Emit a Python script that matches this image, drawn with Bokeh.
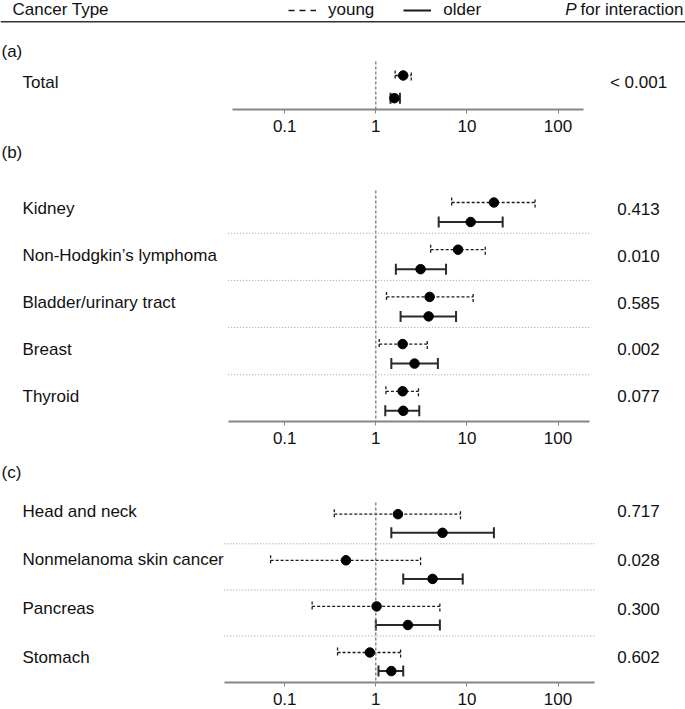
from bokeh.plotting import figure
from bokeh.models import (ColumnDataSource, Range1d, Label, Span, Whisker, TeeHead,
                          FixedTicker, CustomJSTickFormatter, Legend, LegendItem)
from bokeh.layouts import column
from bokeh.embed import file_html
from bokeh.resources import INLINE

FONT = "Liberation Sans"
FS = "17px"
NAN = float("nan")

# ---------------- data ----------------
tick_values = [0.1, 1, 10, 100]
ref_value = 1

panel_labels = ["(a)", "(b)", "(c)"]

cancers_a = ["Total"]
young_or_a = [2.0]
young_lo_a = [1.63]
young_hi_a = [2.45]
older_or_a = [1.60]
older_lo_a = [1.45]
older_hi_a = [1.84]
p_a = ["< 0.001"]

cancers_b = ["Kidney", "Non-Hodgkin\u2019s lymphoma", "Bladder/urinary tract", "Breast", "Thyroid"]
young_or_b = [19.8, 8.0, 3.9, 1.97, 1.97]
young_lo_b = [6.8, 4.0, 1.31, 1.09, 1.29]
young_hi_b = [56.0, 15.9, 11.7, 3.67, 2.94]
older_or_b = [11.0, 3.1, 3.8, 2.66, 2.0]
older_lo_b = [4.9, 1.66, 1.87, 1.48, 1.27]
older_hi_b = [24.7, 5.9, 7.6, 4.8, 3.0]
p_b = ["0.413", "0.010", "0.585", "0.002", "0.077"]

cancers_c = ["Head and neck", "Nonmelanoma skin cancer", "Pancreas", "Stomach"]
young_or_c = [1.75, 0.47, 1.02, 0.86]
young_lo_c = [0.35, 0.07, 0.20, 0.38]
young_hi_c = [8.5, 3.1, 5.05, 1.87]
older_or_c = [5.4, 4.2, 2.25, 1.48]
older_lo_c = [1.48, 2.0, 1.0, 1.07]
older_hi_c = [19.8, 9.0, 5.05, 2.0]
p_c = ["0.717", "0.028", "0.300", "0.602"]

# ---------------- layout ----------------
W = 685
X_RANGE = (10 ** (-4.120), 10 ** 3.3996)


def make_panel(label, names, yor, ylo, yhi, oor, olo, ohi, pvals, lay):
    fh = lay["frame_h"]
    p = figure(width=W, height=fh + lay["bottom"], x_axis_type="log",
               x_range=Range1d(*X_RANGE), y_range=Range1d(fh, 0),
               y_axis_location=None, toolbar_location=None, output_backend="svg",
               min_border_left=0, min_border_right=0, min_border_top=0,
               min_border_bottom=lay["bottom"])
    p.outline_line_color = None
    p.xgrid.visible = False
    p.ygrid.visible = False

    n = len(names)
    y_young = [lay["y0"] + i * lay["step"] for i in range(n)]
    y_older = [y + lay["off"] for y in y_young]
    y_lab = [lay["l0"] + i * lay["lstep"] for i in range(n)]

    # reference line at OR = 1
    p.segment(x0=[ref_value], x1=[ref_value], y0=[lay["ref_top"]], y1=[fh],
              line_color="#6e6e6e", line_width=1.2, line_dash="3 2")

    # separators
    lo_b, hi_b = lay["bounds"]
    sep_y = [y + lay["sep"] for y in y_older[:-1]]
    if sep_y:
        p.segment(x0=[lo_b] * len(sep_y), x1=[hi_b] * len(sep_y), y0=sep_y, y1=sep_y,
                  line_color="#9a9a9a", line_width=1, line_dash="1 2")

    src_y = ColumnDataSource(dict(y=y_young, est=yor, lo=ylo, hi=yhi))
    src_o = ColumnDataSource(dict(y=y_older, est=oor, lo=olo, hi=ohi))

    wy = Whisker(source=src_y, base="y", lower="lo", upper="hi", dimension="width",
                 line_color="#1a1a1a", line_width=1.3, line_dash="3 2",
                 upper_head=TeeHead(size=10, line_color="#1a1a1a", line_width=1.3, line_dash="3 2"),
                 lower_head=TeeHead(size=10, line_color="#1a1a1a", line_width=1.3, line_dash="3 2"))
    wo = Whisker(source=src_o, base="y", lower="lo", upper="hi", dimension="width",
                 line_color="#2a2a2a", line_width=2,
                 upper_head=TeeHead(size=11, line_color="#2a2a2a", line_width=2),
                 lower_head=TeeHead(size=11, line_color="#2a2a2a", line_width=2))
    p.add_layout(wy)
    p.add_layout(wo)
    p.scatter(x="est", y="y", source=src_y, size=9.5, color="black")
    p.scatter(x="est", y="y", source=src_o, size=9.5, color="black")

    # texts
    p.add_layout(Label(x=1, y=lay["group_y"], x_units="screen", y_units="data", text=label,
                       text_font=FONT, text_font_size=FS, text_baseline="middle",
                       text_color="#111111"))
    for nm, pv, yl in zip(names, pvals, y_lab):
        p.add_layout(Label(x=22, y=yl, x_units="screen", y_units="data", text=nm,
                           text_font=FONT, text_font_size=FS, text_baseline="middle",
                           text_color="#111111"))
        p.add_layout(Label(x=638, y=yl, x_units="screen", y_units="data", text=pv,
                           text_font=FONT, text_font_size=FS, text_baseline="middle",
                           text_align="center", text_color="#111111"))

    ax = p.xaxis[0]
    ax.ticker = FixedTicker(ticks=tick_values)
    ax.formatter = CustomJSTickFormatter(code="return tick.toString();")
    ax.bounds = lay["bounds"]
    ax.axis_line_color = "#858585"
    ax.axis_line_width = 2
    ax.major_tick_line_color = "#858585"
    ax.major_tick_line_width = 1
    ax.major_tick_out = 4
    ax.major_tick_in = 0
    ax.minor_tick_line_color = None
    ax.major_label_standoff = 6
    ax.major_label_text_font = FONT
    ax.major_label_text_font_size = FS
    ax.major_label_text_color = "#111111"
    return p


lay_a = dict(frame_h=109, bottom=33, group_y=51, y0=75, step=0, off=22.7, l0=82, lstep=0,
             sep=11, ref_top=61, bounds=(0.0266, 190))
lay_b = dict(frame_h=279, bottom=33, group_y=10, y0=60, step=47.2, off=19.5, l0=66.3, lstep=46.85,
             sep=11.2, ref_top=48, bounds=(0.0240, 221))
lay_c = dict(frame_h=228, bottom=27, group_y=18, y0=59.7, step=46.1, off=18.6, l0=56.8, lstep=48.6,
             sep=11, ref_top=48, bounds=(0.0217, 253))

pa = make_panel(panel_labels[0], cancers_a, young_or_a, young_lo_a, young_hi_a,
                older_or_a, older_lo_a, older_hi_a, p_a, lay_a)
pb = make_panel(panel_labels[1], cancers_b, young_or_b, young_lo_b, young_hi_b,
                older_or_b, older_lo_b, older_hi_b, p_b, lay_b)
pc = make_panel(panel_labels[2], cancers_c, young_or_c, young_lo_c, young_hi_c,
                older_or_c, older_lo_c, older_hi_c, p_c, lay_c)

# header (drawn in panel a)
pa.add_layout(Span(location=21.3, dimension="width", line_color="#333333", line_width=1.5))
pa.add_layout(Label(x=12, y=9, x_units="screen", y_units="data", text="Cancer Type",
                    text_font=FONT, text_font_size=FS, text_baseline="middle", text_color="#111111"))
pa.add_layout(Label(x=683, y=9, x_units="screen", y_units="data", text="for interaction",
                    text_font=FONT, text_font_size=FS, text_baseline="middle", text_align="right",
                    text_color="#111111"))
pa.add_layout(Label(x=576, y=9, x_units="screen", y_units="data", text="P",
                    text_font=FONT, text_font_size=FS, text_font_style="italic",
                    text_baseline="middle", text_align="right", text_color="#111111"))

# legend-only line renderers (no visible data)
r_young = pa.line([NAN], [NAN], line_color="#1a1a1a", line_width=1.5, line_dash="6 5")
r_older = pa.line([NAN], [NAN], line_color="#1a1a1a", line_width=2)
leg = Legend(items=[LegendItem(label="young", renderers=[r_young]),
                    LegendItem(label="older", renderers=[r_older])],
             orientation="horizontal", location=(288, 89), padding=0, margin=0,
             spacing=29, glyph_width=28, glyph_height=16, label_height=16, label_standoff=12,
             label_text_font=FONT, label_text_font_size=FS, label_text_color="#111111",
             background_fill_alpha=0, border_line_color=None)
pa.add_layout(leg)

layout = column(pa, pb, pc, spacing=0)
open("out.html", "w").write(file_html(layout, INLINE))
